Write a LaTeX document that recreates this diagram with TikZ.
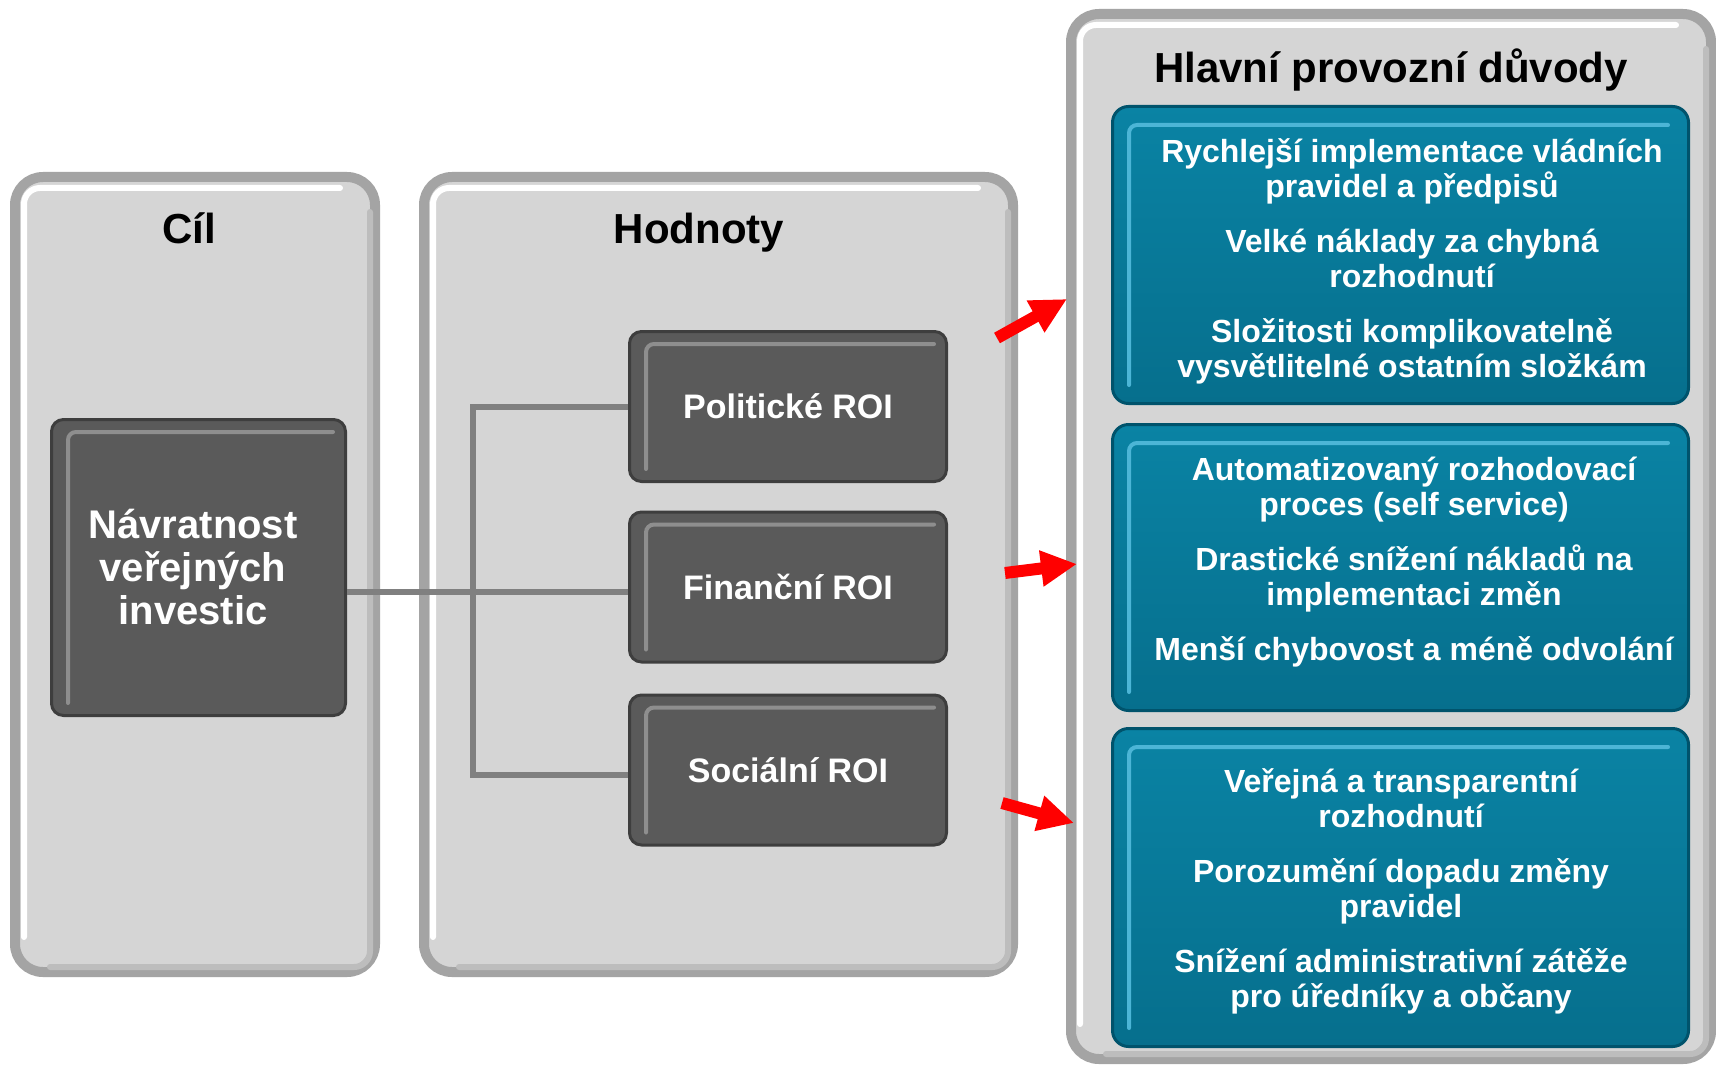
\documentclass[tikz,border=0pt]{standalone}
\usepackage{fontspec}
\setmainfont{Liberation Sans}
\usetikzlibrary{arrows.meta,calc}

\definecolor{panelgray}{HTML}{D5D5D5}
\definecolor{rimgray}{HTML}{A4A4A4}
\definecolor{rimshade}{HTML}{BDBDBD}
\definecolor{darkbox}{HTML}{5A5A5A}
\definecolor{darkrim}{HTML}{3E3E3E}
\definecolor{darkhl}{HTML}{8E8E8E}
\definecolor{tealtop}{HTML}{0A83A4}
\definecolor{tealbot}{HTML}{066F8D}
\definecolor{tealrim}{HTML}{00536C}
\definecolor{tealhl}{HTML}{4CB5D6}
\definecolor{linkgray}{HTML}{808080}
\definecolor{arrred}{HTML}{FF0000}

\begin{document}
\begin{tikzpicture}[x=0.5pt, y=-0.5pt, font=\bfseries,
    panel/.style={draw=rimgray, line width=5pt, fill=panelgray, rounded corners=14pt},
    phl/.style={draw=white, line width=3pt, rounded corners=8pt, line cap=round},
    pshd/.style={draw=rimshade, line width=3pt, rounded corners=8pt, line cap=round},
    roibox/.style={draw=darkrim, line width=1.5pt, fill=darkbox, rounded corners=6pt, text=white, align=center,
      minimum width=158.5pt, minimum height=75pt, font=\bfseries\fontsize{17pt}{20pt}\selectfont},
    dhl/.style={draw=darkhl, line width=2pt, line cap=round, rounded corners=4pt},
    reason/.style={draw=tealrim, line width=1.5pt, top color=tealtop, bottom color=tealbot, rounded corners=8pt,
      minimum width=288pt},
    reasontxt/.style={text=white, align=center, font=\bfseries\fontsize{16pt}{17.5pt}\selectfont},
    thl/.style={draw=tealhl, line width=2pt, line cap=round, rounded corners=4pt},
    ttl/.style={font=\bfseries\fontsize{21pt}{24pt}\selectfont, anchor=base},
    link/.style={draw=linkgray, line width=3pt},
    redarr/.style={-{Triangle[length=18pt, width=17pt]}, draw=arrred, line width=6pt}]

  \useasboundingbox[fill=white] (0,0) rectangle (1716,1064);

  % panels
  \node[panel, minimum width=180pt, minimum height=397.5pt] (cilp) at (195,574.5) {};
  \node[panel, minimum width=294.5pt, minimum height=397.5pt] (hodp) at (718.5,574.5) {};
  \node[panel, minimum width=320pt, minimum height=522.5pt] (duvp) at (1391,536.5) {};
  \foreach \p in {cilp,hodp,duvp} {
    \draw[pshd] ($(\p.north east)+(-10,40)$) -- ($(\p.south east)+(-10,-10)$) -- ($(\p.south west)+(40,-10)$);
    \draw[phl] ($(\p.south west)+(14,-40)$) -- ($(\p.north west)+(14,16)$) -- ($(\p.north east)+(-40,16)$);
  }

  \node[ttl] (cil) at (189,243) {Cíl};
  \node[ttl] (hod) at (699,243) {Hodnoty};
  \node[ttl] (duv) at (1391,83) {Hlavní provozní důvody};

  % boxes
  \node[roibox, minimum width=147pt, minimum height=148pt] (navr) at (198.5,567.5) {};
  \node[text=white, align=center, font=\bfseries\fontsize{20pt}{21.5pt}\selectfont]
    (navrt) at (193,567.5) {Návratnost\\veřejných\\investic};
  \node[roibox] (pol) at (788,406.5) {Politické ROI};
  \node[roibox] (fin) at (788,587) {Finanční ROI};
  \node[roibox] (soc) at (788,770) {Sociální ROI};

  % links
  \coordinate (trunk) at (473,0);
  \coordinate (finin) at ([yshift=-2.5pt]fin.west);
  \coordinate (socin) at ([yshift=-2.5pt]soc.west);
  \draw[link] (pol.west) -| (trunk |- socin) -- (socin);
  \draw[link] (navr.east |- finin) -- (finin);

  \foreach \b in {navr,pol,fin,soc}
    \draw[dhl] ($(\b.south west)+(18,-14)$) -- ($(\b.north west)+(18,14)$) -- ($(\b.north east)+(-14,14)$);

  \node[reason, minimum height=148.5pt] (r1) at (1400.5,255) {};
  \node[reason, minimum height=143pt] (r2) at (1400.5,567.5) {};
  \node[reason, minimum height=159pt] (r3) at (1400.5,887.5) {};
  \foreach \r in {r1,r2,r3}
    \draw[thl] ($(\r.south west)+(18,-20)$) -- ($(\r.north west)+(18,20)$) -- ($(\r.north east)+(-22,20)$);

  \node[reasontxt] (r1t) at (1412,261)
    {Rychlejší implementace vládních\\pravidel a předpisů\\[10pt]Velké náklady za chybná\\rozhodnutí\\[10pt]Složitosti komplikovatelně\\vysvětlitelné ostatním složkám};
  \node[reasontxt] (r2t) at (1414,562.5)
    {Automatizovaný rozhodovací\\proces (self service)\\[10pt]Drastické snížení nákladů na\\implementaci změn\\[10pt]Menší chybovost a méně odvolání};
  \node[reasontxt] (r3t) at (1401,891.5)
    {Veřejná a transparentní\\rozhodnutí\\[10pt]Porozumění dopadu změny\\pravidel\\[10pt]Snížení administrativní zátěže\\pro úředníky a občany};

  % arrows
  \coordinate (a1s) at (997,338);  \coordinate (a1e) at (1067,299);
  \coordinate (a2s) at (1005,573); \coordinate (a2e) at (1077,564);
  \coordinate (a3s) at (1002,803); \coordinate (a3e) at (1074,823);
  \draw[redarr] (a1s) -- (a1e);
  \draw[redarr] (a2s) -- (a2e);
  \draw[redarr] (a3s) -- (a3e);
\end{tikzpicture}
\end{document}
